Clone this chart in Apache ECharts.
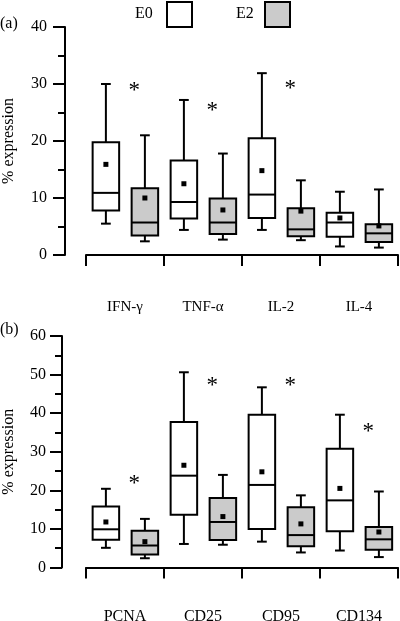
<!DOCTYPE html>
<html>
<head>
<meta charset="utf-8">
<script src="https://cdn.jsdelivr.net/npm/echarts@6/dist/echarts.min.js"></script>
<style>html,body{margin:0;padding:0;background:#fff}#c{width:400px;height:621px}</style>
</head>
<body>
<div id="c"></div>
<script>
// ---- data ----
const catsA = ['IFN-γ', 'TNF-α', 'IL-2', 'IL-4'];
const catsB = ['PCNA', 'CD25', 'CD95', 'CD134'];
// [min, Q1, median, Q3, max]
const e0A = [[5.5, 7.8, 10.9, 19.8, 30.0], [4.4, 6.4, 9.3, 16.6, 27.2], [4.4, 6.5, 10.6, 20.5, 31.9], [1.5, 3.2, 5.7, 7.4, 11.1]];
const e0AMean = [15.9, 12.5, 14.8, 6.5];
const e2A = [[2.4, 3.4, 5.7, 11.7, 21.0], [2.7, 3.7, 5.7, 9.9, 17.8], [2.6, 3.3, 4.5, 8.2, 13.1], [1.3, 2.3, 3.8, 5.4, 11.5]];
const e2AMean = [10.0, 7.9, 7.7, 5.1];
const sigA = [29.7, 26.2, 30.0, null];
const e0B = [[5.1, 7.2, 9.9, 15.8, 20.4], [6.1, 13.7, 23.8, 37.7, 50.6], [6.7, 10.0, 21.4, 39.6, 46.7], [4.4, 9.4, 17.4, 30.8, 39.6]];
const e0BMean = [11.8, 26.5, 24.8, 20.5];
const e2B = [[2.4, 3.4, 5.7, 9.5, 12.6], [5.9, 7.1, 11.8, 18.0, 24.0], [3.9, 5.5, 8.4, 15.6, 18.7], [2.7, 4.6, 7.3, 10.5, 19.7]];
const e2BMean = [6.7, 13.2, 11.3, 9.2];
const sigB = [23.0, 48.3, 48.3, 36.4];
const ticksA = [0, 10, 20, 30, 40];
const ticksB = [0, 10, 20, 30, 40, 50, 60];

// ---- styles ----
const FONT = 'Liberation Serif';
const GRAY = '#cbcbcb';
const OFF0 = -0.245, OFF2 = 0.255, BOXW = 0.34, CAPW = 0.125, SIGOFF = 0.12;

function boxSeries(name, gi, stats, means, fill, off) {
  return {
    type: 'custom', name: name, xAxisIndex: gi, yAxisIndex: gi,
    data: stats.map((s, i) => [i].concat(s, [means[i]])),
    encode: { x: 0, y: [1, 2, 3, 4, 5, 6] },
    renderItem: function (params, api) {
      const idx = api.value(0);
      const bw = api.size([1, 0])[0];
      const cx = api.coord([idx, 0])[0] + off * bw;
      const y = k => api.coord([idx, api.value(k)])[1];
      const yMin = y(1), yQ1 = y(2), yMed = y(3), yQ3 = y(4), yMax = y(5), yMean = y(6);
      const hw = BOXW * bw / 2, cw = CAPW * bw / 2;
      const ls = { stroke: '#000', lineWidth: 2 };
      return { type: 'group', children: [
        { type: 'line', shape: { x1: cx, y1: yMax, x2: cx, y2: yQ3 }, style: ls },
        { type: 'line', shape: { x1: cx - cw, y1: yMax, x2: cx + cw, y2: yMax }, style: ls },
        { type: 'line', shape: { x1: cx, y1: yQ1, x2: cx, y2: yMin }, style: ls },
        { type: 'line', shape: { x1: cx - cw, y1: yMin, x2: cx + cw, y2: yMin }, style: ls },
        { type: 'rect', shape: { x: cx - hw, y: yQ3, width: 2 * hw, height: yQ1 - yQ3 }, style: { fill: fill, stroke: '#000', lineWidth: 2 } },
        { type: 'line', shape: { x1: cx - hw, y1: yMed, x2: cx + hw, y2: yMed }, style: ls },
        { type: 'rect', shape: { x: cx - 2.5, y: yMean - 2.5, width: 5, height: 5 }, style: { fill: '#000' } }
      ] };
    }
  };
}
function sigSeries(gi, sig) {
  return {
    type: 'custom', xAxisIndex: gi, yAxisIndex: gi,
    data: sig.map((v, i) => [i, v]).filter(d => d[1] != null),
    encode: { x: 0, y: 1 },
    renderItem: function (params, api) {
      const idx = api.value(0);
      const bw = api.size([1, 0])[0];
      const p = api.coord([idx, api.value(1)]);
      return { type: 'text', style: { text: '*', x: p[0] + SIGOFF * bw, y: p[1] + 5, fill: '#000', font: '23px ' + FONT, align: 'center', verticalAlign: 'middle' } };
    }
  };
}
function xAx(gi, cats, offset, margin, fs) {
  return {
    type: 'category', gridIndex: gi, data: cats, position: 'bottom', offset: offset,
    boundaryGap: true,
    axisLine: { lineStyle: { color: '#000', width: 2 } },
    axisTick: { show: true, length: 11, lineStyle: { color: '#000', width: 2 } },
    axisLabel: { margin: margin, color: '#000', fontFamily: FONT, fontSize: fs },
    splitLine: { show: false }
  };
}
function yAx(gi, ticks, offset, margin, nameGap) {
  return {
    type: 'value', gridIndex: gi, min: ticks[0], max: ticks[ticks.length - 1], interval: ticks[1] - ticks[0],
    offset: offset, name: '% expression', nameLocation: 'middle', nameGap: nameGap,
    nameTextStyle: { color: '#000', fontFamily: FONT, fontSize: 16 },
    axisLine: { show: true, lineStyle: { color: '#000', width: 2 } },
    axisTick: { show: true, length: 12, lineStyle: { color: '#000', width: 2 } },
    minorTick: { show: true, splitNumber: 2, length: 7, lineStyle: { color: '#000', width: 2 } },
    axisLabel: { margin: margin, color: '#000', fontFamily: FONT, fontSize: 16 },
    splitLine: { show: false }
  };
}

const chart = echarts.init(document.getElementById('c'), null, { renderer: 'canvas' });
chart.setOption({
  animation: false,
  backgroundColor: '#fff',
  grid: [
    { left: 86, width: 312, top: 27, height: 228, containLabel: false, outerBoundsMode: 'none' },
    { left: 86, width: 312, top: 336, height: 231.5, containLabel: false, outerBoundsMode: 'none' }
  ],
  xAxis: [xAx(0, catsA, 22, 23, 15), xAx(1, catsB, 22.5, 19, 16)],
  yAxis: [yAx(0, ticksA, 21, 18, 48), yAx(1, ticksB, 24, 16, 45)],
  series: [
    boxSeries('E0', 0, e0A, e0AMean, '#fff', OFF0),
    boxSeries('E2', 0, e2A, e2AMean, GRAY, OFF2),
    sigSeries(0, sigA),
    boxSeries('E0', 1, e0B, e0BMean, '#fff', OFF0),
    boxSeries('E2', 1, e2B, e2BMean, GRAY, OFF2),
    sigSeries(1, sigB)
  ],
  graphic: [
    { type: 'text', left: 0, top: 16, style: { text: '(a)', font: '16px ' + FONT, fill: '#000' } },
    { type: 'text', left: 0, top: 322, style: { text: '(b)', font: '16px ' + FONT, fill: '#000' } },
    { type: 'text', left: 135, top: 6, style: { text: 'E0', font: '16px ' + FONT, fill: '#000' } },
    { type: 'rect', left: 166, top: 1, shape: { width: 25, height: 25 }, style: { fill: '#fff', stroke: '#000', lineWidth: 2 } },
    { type: 'text', left: 236, top: 6, style: { text: 'E2', font: '16px ' + FONT, fill: '#000' } },
    { type: 'rect', left: 264, top: 1, shape: { width: 25, height: 25 }, style: { fill: GRAY, stroke: '#000', lineWidth: 2 } }
  ]
});
</script>
</body>
</html>
